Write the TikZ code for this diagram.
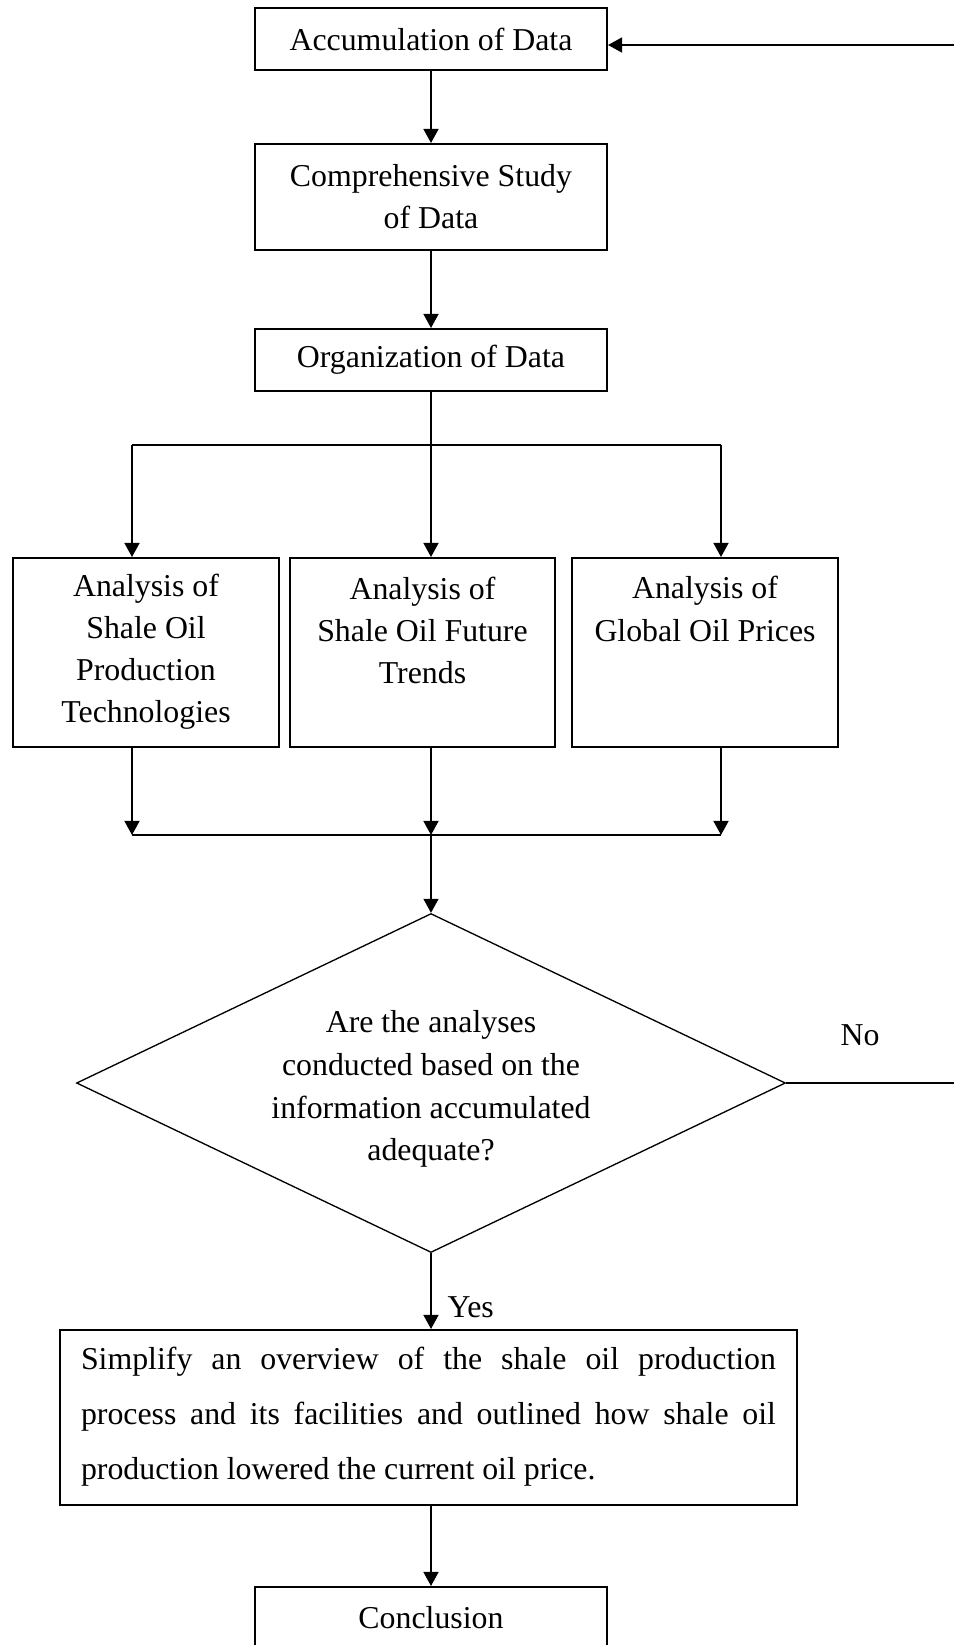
\documentclass[tikz,border=0pt]{standalone}
\usepackage{fontspec}
\setmainfont{Liberation Serif}
\usetikzlibrary{shapes.geometric,arrows.meta,calc}
\begin{document}
\def\u{0.377pt}
\begin{tikzpicture}[x=0.377pt,y=-0.377pt,
  box/.style={draw,line width=0.75pt,rectangle,inner sep=0pt},
  lbl/.style={font=\fontsize{12}{15.9}\selectfont,align=center,inner sep=0pt},
  arr/.style={line width=0.75pt,-{Triangle[length=5.3pt,width=5.6pt]}},
  ln/.style={line width=0.75pt}]
\useasboundingbox (0,0) rectangle (954,1645);
\fill[white] (0,0) rectangle (954,1645);

% top chain
\node[box,lbl,minimum width=352*\u,minimum height=62*\u] (acc) at (431,39) {Accumulation of Data};
\node[box,lbl,minimum width=352*\u,minimum height=106*\u] (comp) at (431,197) {Comprehensive Study\\of Data};
\node[box,lbl,minimum width=352*\u,minimum height=62*\u] (org) at (431,360) {Organization of Data};
\draw[arr] (acc.south) -- (comp.north);
\draw[arr] (comp.south) -- (org.north);

% branch
\coordinate (bc) at (431,445);
\coordinate (bl) at (132,445);
\coordinate (brr) at (721,445);
\node[box,minimum width=266*\u,minimum height=189*\u] (b1) at (146,652.5) {};
\node[box,minimum width=265*\u,minimum height=189*\u] (b2) at (422.5,652.5) {};
\node[box,minimum width=266*\u,minimum height=189*\u] (b3) at (705,652.5) {};
\node[lbl] (t1) at (146,651.5) {Analysis of\\Shale Oil\\Production\\Technologies};
\node[lbl] (t2) at (422.5,630.5) {Analysis of\\Shale Oil Future\\Trends};
\node[lbl] (t3) at (705,609) {Analysis of\\Global Oil Prices};
\draw[ln] (org.south) -- (bc);
\draw[ln] (bl) -- (brr);
\draw[arr] (bl) -- (bl |- b1.north);
\draw[arr] (bc) -- (bc |- b2.north);
\draw[arr] (brr) -- (brr |- b3.north);

% merge
\coordinate (ml) at (132,835);
\coordinate (mc) at (431,835);
\coordinate (mr) at (721,835);
\draw[arr] (ml |- b1.south) -- (ml);
\draw[arr] (mc |- b2.south) -- (mc);
\draw[arr] (mr |- b3.south) -- (mr);
\draw[ln] (ml) -- (mr);

% decision
\node[diamond,draw,line width=0.5pt,minimum width=709*\u,minimum height=339*\u,inner sep=0pt] (dia) at (431,1083) {};
\node[lbl,font=\fontsize{12}{16.1}\selectfont] (q) at (431,1089) {Are the analyses\\conducted based on the\\information accumulated\\adequate?};
\draw[arr] (mc) -- (dia.north);

% No loop
\node[lbl] (no) at (860,1035) {No};
\coordinate (ret) at (995,45);
\draw[arr] (dia.east) -- (dia.east -| ret) -- (ret) -- (ret -| acc.east);

% Yes
\node[box,minimum width=737*\u,minimum height=175*\u] (simp) at (428.5,1417.5) {};
\node[font=\fontsize{12}{20.7}\selectfont,text width=262pt,align=justify,inner sep=0pt] (st) at (428.5,1417) {Simplify an overview of the shale oil production\linebreak process and its facilities and outlined how shale oil\linebreak production lowered the current oil price.};
\draw[arr] (dia.south) -- (dia.south |- simp.north);
\node[lbl,anchor=west] (yes) at (447,1307) {Yes};

% Conclusion
\node[box,lbl,minimum width=352*\u,minimum height=62*\u] (conc) at (431,1618) {Conclusion};
\draw[arr] (dia.south |- simp.south) -- (dia.south |- conc.north);
\end{tikzpicture}
\end{document}
